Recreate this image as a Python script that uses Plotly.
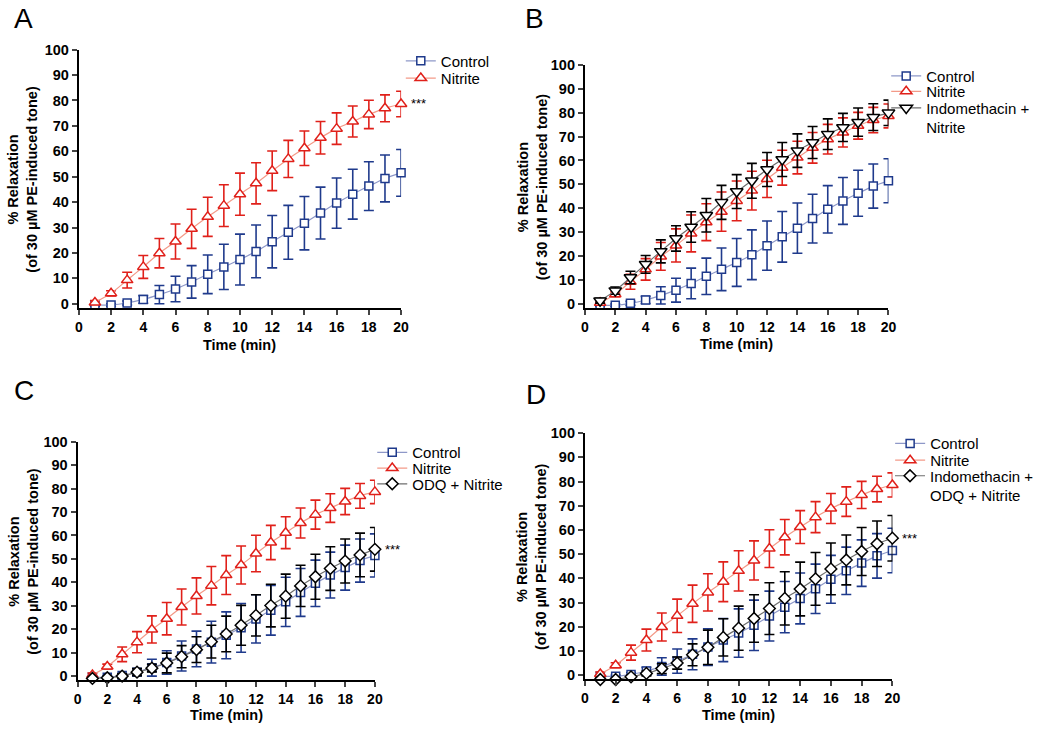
import plotly.graph_objects as go

# ---------------- data ----------------
time_min = list(range(1, 21))

control = [-0.5, -0.5, 0.3, 1.7, 3.6, 5.8, 8.6, 11.6, 14.5, 17.4, 20.6, 24.4, 28.1, 31.7, 35.7, 39.6, 43.1, 46.3, 49.3, 51.5]
control_sem = [0.5, 0.5, 0.8, 1.5, 3.6, 5.0, 6.4, 7.6, 8.9, 10.0, 10.4, 10.3, 10.6, 10.5, 10.2, 9.9, 9.8, 9.6, 9.2, 9.2]

nitrite = [0.5, 4.1, 9.3, 14.5, 19.9, 24.5, 29.5, 34.2, 38.6, 43.1, 47.4, 52.3, 57.0, 61.2, 65.3, 68.9, 71.7, 74.5, 76.9, 78.6]
nitrite_sem = [0.8, 1.0, 3.1, 4.5, 5.8, 6.9, 7.7, 7.7, 8.2, 8.3, 8.1, 7.8, 7.3, 6.8, 6.4, 6.2, 6.1, 5.6, 5.3, 5.0]

indo_nitrite = [1.4, 5.6, 11.1, 16.6, 22.0, 27.4, 32.2, 37.1, 42.5, 47.0, 51.5, 56.2, 60.4, 64.1, 67.5, 71.0, 73.8, 76.0, 78.1, 79.9]
indo_nitrite_sem = [1.0, 1.5, 2.6, 3.7, 4.8, 5.3, 6.4, 7.0, 7.1, 7.1, 7.3, 7.1, 7.1, 7.0, 6.7, 6.4, 5.9, 5.9, 5.6, 5.3]

odq_nitrite = [-1.0, -0.7, 0.0, 1.7, 3.4, 5.6, 8.3, 11.3, 14.7, 18.0, 21.7, 25.9, 30.1, 34.1, 38.5, 42.4, 45.9, 49.1, 51.7, 54.1]
odq_nitrite_sem = [0.5, 0.5, 1.0, 1.5, 1.6, 4.2, 4.7, 5.5, 7.0, 7.6, 8.5, 8.8, 9.1, 9.4, 8.8, 9.6, 9.3, 9.4, 9.3, 9.3]

indo_odq_nitrite = [-1.8, -1.8, -0.7, 0.7, 2.7, 5.0, 8.4, 11.5, 15.6, 19.4, 23.4, 27.5, 31.7, 35.6, 39.8, 43.9, 47.6, 51.1, 54.3, 56.6]
indo_odq_nitrite_sem = [0.5, 0.5, 0.5, 1.0, 2.0, 2.5, 4.5, 7.1, 7.7, 9.1, 9.8, 10.7, 11.0, 11.1, 10.9, 10.7, 10.3, 9.9, 9.4, 9.4]

panel_letters = ["A", "B", "C", "D"]
x_ticks = list(range(0, 21, 2))
y_ticks = list(range(0, 101, 10))
y_title = "% Relaxation<br>(of 30 µM PE-induced tone)"
x_title = "Time (min)"
sig_label = "***"

# ---------------- styling ----------------
W, H = 1039, 729
FONT = "Liberation Sans, Arial, sans-serif"
NAVY, NAVY_LINE = "#1f3a8c", "#8e98c8"
RED, RED_LINE = "#e0201a", "#f39a88"
BLACK, BLACK_LINE = "#000000", "#6e6e6e"
YMIN = -1.8

# panel pixel geometry: (x_left, x_right, y_top(=100), y_zero)
panels = [
    (76.0, 403.3, 42.3, 300.7),
    (590.0, 898.3, 57.7, 301.0),
    (74.7, 376.7, 441.0, 679.3),
    (590.0, 902.3, 432.3, 678.3),
]

series_def = {
    "control": dict(name="Control", y=control, e=control_sem, c=NAVY, lc=NAVY_LINE, sym="square", size=8),
    "nitrite": dict(name="Nitrite", y=nitrite, e=nitrite_sem, c=RED, lc=RED_LINE, sym="triangle-up", size=10),
    "indo": dict(name="Indomethacin +<br>Nitrite", y=indo_nitrite, e=indo_nitrite_sem, c=BLACK, lc=BLACK_LINE, sym="triangle-down", size=11),
    "odq": dict(name="ODQ + Nitrite", y=odq_nitrite, e=odq_nitrite_sem, c=BLACK, lc=BLACK_LINE, sym="diamond", size=9),
    "indo_odq": dict(name="Indomethacin +<br>ODQ + Nitrite", y=indo_odq_nitrite, e=indo_odq_nitrite_sem, c=BLACK, lc=BLACK_LINE, sym="diamond", size=9),
}
panel_series = [
    ["control", "nitrite"],
    ["control", "nitrite", "indo"],
    ["control", "nitrite", "odq"],
    ["control", "nitrite", "indo_odq"],
]
# legend: text start x and row centre y for each entry
legend_text_x = [443, 936, 414, 940]
legend_rows = [
    [54, 71.5],
    [69.3, 85.0, 111.5],
    [452, 468, 484],
    [443, 460, 485.5],
]
sig_targets = ["nitrite", None, "odq", "indo_odq"]

layout = dict(
    width=W, height=H, margin=dict(l=0, r=0, t=0, b=0),
    paper_bgcolor="white", plot_bgcolor="white",
    font=dict(family=FONT, color="black"),
    annotations=[], showlegend=True,
)

fig = go.Figure()
leg_count = 1
for i, (xl, xr, yt, y0) in enumerate(panels):
    n = "" if i == 0 else str(i + 1)
    per = (y0 - yt) / 100.0
    yb = y0 - YMIN * per  # pixel of bottom of range
    layout["xaxis" + n] = dict(
        domain=[xl / W, xr / W], range=[0, 20], anchor="y" + n,
        tickvals=x_ticks, ticktext=["<b>%d</b>" % v for v in x_ticks],
        ticks="outside", ticklen=5, tickwidth=2,
        showline=True, linecolor="black", linewidth=2, showgrid=False, zeroline=False,
        tickfont=dict(size=14, family=FONT, color="black"),
    )
    layout["yaxis" + n] = dict(
        domain=[1 - yb / H, 1 - yt / H], range=[YMIN, 100], anchor="x" + n,
        tickvals=y_ticks, ticktext=["<b>%d</b>" % v for v in y_ticks],
        ticks="outside", ticklen=5, tickwidth=2,
        showline=True, linecolor="black", linewidth=2, showgrid=False, zeroline=False,
        tickfont=dict(size=14.5, family=FONT, color="black"),
    )
    for j, key in enumerate(panel_series[i]):
        s = series_def[key]
        leg_count += 1
        leg = "legend%d" % leg_count
        layout[leg] = dict(
            x=(legend_text_x[i] - 40) / W, y=1 - legend_rows[i][j] / H,
            xanchor="left", yanchor="middle", valign="top",
            bgcolor="rgba(0,0,0,0)", font=dict(size=15, family=FONT, color="black"),
        )
        fig.add_trace(go.Scatter(
            x=time_min, y=s["y"], name=s["name"], mode="lines+markers",
            xaxis="x" + n, yaxis="y" + n, legend=leg, cliponaxis=False, showlegend=True,
            line=dict(color=s["lc"], width=1.2, shape="spline", smoothing=0.8),
            marker=dict(symbol=s["sym"], size=s["size"], color="white",
                        line=dict(color=s["c"], width=1.5)),
            error_y=dict(type="data", array=s["e"], symmetric=True,
                         color=s["c"], thickness=1.6, width=5),
        ))
    # panel letter
    layout["annotations"].append(dict(
        text=panel_letters[i], xref="paper", yref="paper",
        x=[20, 539, 20, 540][i] / W, y=1 - [11, 11, 389, 393][i] / H,
        xanchor="center", yanchor="middle", showarrow=False,
        font=dict(size=28, family=FONT, color="black"),
    ))
    # axis titles
    layout["annotations"].append(dict(
        text="<b>" + y_title.replace("<br>", "</b><br><b>") + "</b>", xref="paper", yref="paper",
        x=[19, 537, 19, 536][i] / W, y=1 - ((yt + yb) / 2) / H,
        xanchor="center", yanchor="middle", textangle=-90, showarrow=False,
        font=dict(size=14.5, family=FONT, color="black"),
    ))
    layout["annotations"].append(dict(
        text="<b>" + x_title + "</b>", xref="paper", yref="paper",
        x=((xl + xr) / 2) / W, y=1 - [343, 342, 718.5, 719][i] / H,
        xanchor="center", yanchor="middle", showarrow=False,
        font=dict(size=14.5, family=FONT, color="black"),
    ))
    if sig_targets[i] is not None:
        key = sig_targets[i]
        layout["annotations"].append(dict(
            text=sig_label, xref="x" + n, yref="y" + n,
            x=20, y=series_def[key]["y"][-1],
            xanchor="left", yanchor="middle", xshift=8, showarrow=False,
            font=dict(size=13, family=FONT, color="black"),
        ))

fig.update_layout(**layout)
fig.write_html(
    "out.html",
    config={"displayModeBar": False},
    post_script="document.body.style.margin='0px';document.body.style.overflow='hidden';",
)
